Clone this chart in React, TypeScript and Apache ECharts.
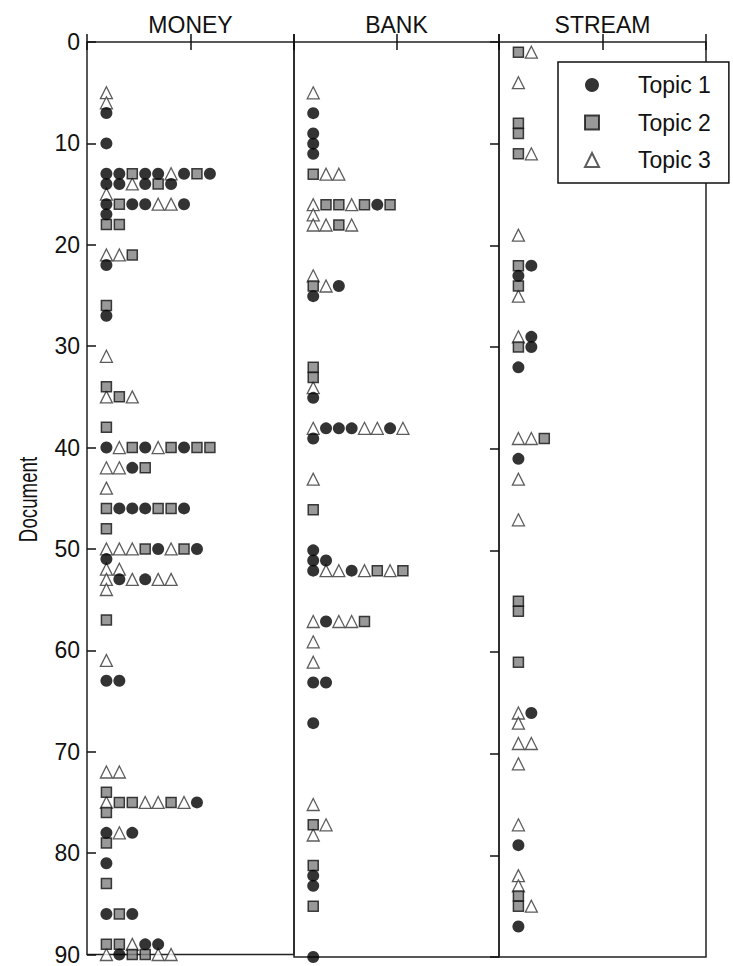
import React, { useEffect, useRef } from "react";
import * as echarts from "echarts";

const panelNames = ["MONEY", "BANK", "STREAM"];
const topicNames = ["Topic 1", "Topic 2", "Topic 3"];
const docMin = 0;
const docMax = 90;
const docStep = 10;

// document number and the sequence of topic assignments for each occurrence of the word
const moneyDocs = [5, 6, 7, 10, 13, 14, 15, 16, 17, 18, 21, 22, 26, 27, 31, 34, 35, 38, 40, 42, 44, 46, 48, 50, 51, 52, 53, 54, 57, 61, 63, 72, 74, 75, 76, 78, 79, 81, 83, 86, 89, 90];
const moneyTopics = ["3", "3", "1", "1", "112113121", "113121", "3", "1211331", "1", "22", "332", "1", "2", "1", "3", "2", "323", "2", "132132122", "3312", "3", "2111221", "2", "33321321", "1", "33", "313133", "3", "2", "3", "11", "33", "2", "32233231", "2", "131", "2", "1", "2", "121", "22311", "312233"];

const bankDocs = [5, 7, 9, 10, 11, 13, 16, 17, 18, 23, 24, 25, 32, 33, 34, 35, 38, 39, 43, 46, 50, 51, 52, 57, 59, 61, 63, 67, 75, 77, 78, 81, 82, 83, 85, 90];
const bankTopics = ["3", "1", "1", "1", "1", "233", "3223212", "3", "3323", "3", "231", "1", "2", "2", "3", "1", "31113313", "1", "3", "2", "1", "11", "13313232", "31332", "3", "3", "11", "1", "3", "23", "3", "2", "1", "1", "2", "1"];

const streamDocs = [1, 4, 8, 9, 11, 19, 22, 23, 24, 25, 29, 30, 32, 39, 41, 43, 47, 55, 56, 61, 66, 67, 69, 71, 77, 79, 82, 83, 84, 85, 87];
const streamTopics = ["23", "3", "2", "2", "23", "3", "21", "1", "2", "3", "31", "21", "1", "332", "1", "3", "3", "2", "2", "2", "31", "3", "33", "3", "3", "1", "3", "3", "2", "23", "1"];

const panelDocs = [moneyDocs, bankDocs, streamDocs];
const panelTopics = [moneyTopics, bankTopics, streamTopics];

const FONT = '"Liberation Sans", Arial, Helvetica, sans-serif';
const INK = "#111";

const panelLeft = [87, 294, 499];
const panelWidth = [207, 205, 207];
const plotTop = 42;
const plotHeight = 915;

const topicStyles: any[] = [
  { symbol: "circle", symbolSize: 12, itemStyle: { color: "#000", borderWidth: 0 } },
  { symbol: "rect", symbolSize: 10, itemStyle: { color: "#808080", borderColor: "#111", borderWidth: 1.5 } },
  { symbol: "triangle", symbolSize: 12, itemStyle: { color: "#fff", borderColor: "#333", borderWidth: 1.3 } },
];

function pointsFor(docs: number[], topics: string[], topic: number) {
  const pts: number[][] = [];
  docs.forEach((d, i) => {
    topics[i].split("").forEach((c, k) => {
      if (Number(c) === topic) pts.push([k + 1.5, d]);
    });
  });
  return pts;
}

export default function App() {
  const ref = useRef<HTMLDivElement>(null);
  useEffect(() => {
    if (!ref.current) return;
    const chart = echarts.init(ref.current, undefined, { renderer: "svg" });

    const grid = panelNames.map((_, p) => ({
      left: panelLeft[p],
      top: plotTop,
      width: panelWidth[p],
      height: plotHeight,
      show: true,
      borderColor: "#222",
      borderWidth: 1.5,
      backgroundColor: "transparent",
    }));

    const xAxis: any[] = [];
    panelNames.forEach((_, p) => {
      ["bottom", "top"].forEach((pos) => {
        xAxis.push({
          type: "value",
          gridIndex: p,
          position: pos,
          min: 0,
          max: 16,
          interval: 8,
          axisLine: { show: false },
          axisTick: { show: true, inside: true, length: 8, lineStyle: { color: INK, width: 1.5 } },
          axisLabel: { show: false },
          splitLine: { show: false },
        });
      });
    });

    const yAxis: any[] = panelNames.map((_, p) => ({
      type: "value",
      gridIndex: p,
      inverse: true,
      min: docMin,
      max: docMax,
      interval: docStep,
      position: p === 2 ? "right" : "left",
      axisLine: { show: false },
      axisTick: {
        show: p !== 1,
        inside: true,
        length: 9,
        lineStyle: { color: INK, width: 1.5 },
      },
      axisLabel: {
        show: p === 0,
        fontSize: 23,
        color: INK,
        fontFamily: FONT,
        margin: 7,
      },
      splitLine: { show: false },
    }));

    const series: any[] = [];
    panelNames.forEach((_, p) => {
      [2, 1, 0].forEach((t) => {
        series.push({
          type: "scatter",
          name: topicNames[t],
          xAxisIndex: p * 2,
          yAxisIndex: p,
          symbol: topicStyles[t].symbol,
          symbolSize: topicStyles[t].symbolSize,
          itemStyle: topicStyles[t].itemStyle,
          data: pointsFor(panelDocs[p], panelTopics[p], t + 1),
          silent: true,
        });
      });
    });

    const graphic: any[] = panelNames.map((name, p) => ({
      type: "text",
      x: panelLeft[p] + panelWidth[p] / 2,
      y: 25,
      style: {
        text: name,
        textAlign: "center",
        textVerticalAlign: "middle",
        fontSize: 23,
        fontFamily: FONT,
        fill: INK,
      },
    }));
    graphic.push({
      type: "text",
      x: 28,
      y: plotTop + plotHeight / 2,
      rotation: Math.PI / 2,
      scaleX: 0.72,
      style: {
        text: "Document",
        textAlign: "center",
        textVerticalAlign: "middle",
        fontSize: 26,
        fontFamily: FONT,
        fill: INK,
      },
    });

    chart.setOption({
      animation: false,
      backgroundColor: "#fff",
      grid,
      xAxis,
      yAxis,
      series,
      graphic,
      legend: {
        data: topicNames,
        orient: "vertical",
        left: 558,
        top: 62,
        padding: [11.5, 18, 11.5, 26],
        itemGap: 14.5,
        itemWidth: 14,
        itemHeight: 14,
        borderColor: INK,
        borderWidth: 1.5,
        backgroundColor: "#fff",
        selectedMode: false,
        textStyle: { fontSize: 23, color: INK, fontFamily: FONT, padding: [0, 0, 0, 34] },
      },
    });
    return () => chart.dispose();
  }, []);
  return (
    <div
      ref={ref}
      style={{ position: "fixed", left: 0, top: 0, width: 733, height: 966, background: "#fff" }}
    />
  );
}
